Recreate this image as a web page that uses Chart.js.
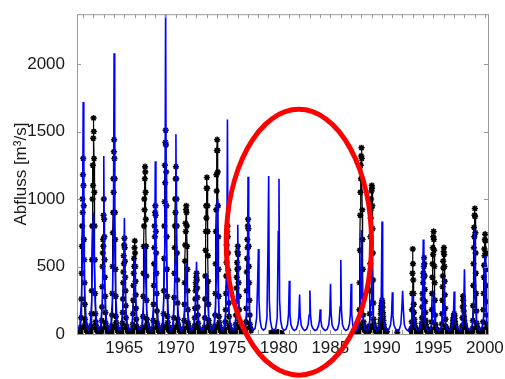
<!DOCTYPE html>
<html>
<head>
<meta charset="utf-8">
<script src="https://cdn.jsdelivr.net/npm/chart.js@4.4.1/dist/chart.umd.min.js"></script>
<style>
html, body { margin: 0; background: #fff; }
#wrap { width: 505px; height: 379px; }
</style>
</head>
<body>
<div id="wrap"><canvas id="abflussChart"></canvas></div>
<script>
// simulated discharge (blue): one row per year, values at SIM_PHASE offsets from the year
const SIM_YEARS = [1961,1962,1963,1964,1965,1966,1967,1968,1969,1970,
	1971,1972,1973,1974,1975,1976,1977,1978,1979,1980,
	1981,1982,1983,1984,1985,1986,1987,1988,1989,1990,
	1991,1992,1993,1994,1995,1996,1997,1998,1999,2000];
const SIM_PHASE = [-0.5, -0.3, -0.15, -0.05, 0.02, 0.08, 0.18, 0.32];
const SIM_FLOW = [
	[30, 60, 250, 600, 1720, 700, 300, 80],
	[30, 60, 250, 700, 900, 600, 250, 80],
	[30, 55, 200, 500, 1320, 500, 200, 70],
	[30, 60, 250, 650, 2080, 700, 280, 80],
	[30, 50, 180, 400, 860, 400, 160, 60],
	[28, 45, 150, 350, 560, 350, 150, 55],
	[28, 50, 200, 450, 650, 450, 180, 60],
	[30, 55, 220, 500, 1280, 550, 220, 70],
	[30, 60, 280, 700, 2450, 800, 300, 80],
	[30, 55, 230, 550, 1480, 600, 230, 70],
	[28, 50, 180, 400, 520, 380, 160, 60],
	[28, 45, 140, 300, 535, 300, 130, 55],
	[28, 45, 150, 350, 450, 300, 140, 55],
	[28, 50, 200, 450, 1000, 450, 180, 60],
	[28, 50, 170, 400, 1590, 400, 160, 55],
	[28, 45, 130, 300, 810, 300, 120, 50],
	[28, 45, 140, 400, 1165, 350, 130, 50],
	[28, 40, 120, 390, 630, 250, 100, 45],
	[28, 40, 120, 640, 1170, 250, 100, 45],
	[28, 40, 120, 760, 1150, 250, 100, 45],
	[26, 35, 70, 150, 395, 150, 70, 40],
	[26, 35, 70, 130, 293, 130, 65, 40],
	[26, 35, 70, 140, 322, 140, 65, 40],
	[26, 33, 60, 100, 183, 100, 55, 38],
	[26, 35, 70, 150, 373, 150, 65, 40],
	[26, 35, 80, 200, 549, 180, 70, 40],
	[26, 35, 70, 150, 373, 150, 65, 40],
	[28, 40, 120, 350, 770, 300, 110, 45],
	[28, 40, 110, 250, 500, 250, 100, 45],
	[28, 40, 120, 300, 834, 300, 100, 45],
	[26, 35, 70, 150, 310, 140, 65, 40],
	[26, 35, 75, 200, 320, 200, 70, 40],
	[26, 35, 70, 150, 290, 140, 65, 40],
	[26, 38, 100, 250, 700, 250, 90, 42],
	[26, 35, 80, 180, 320, 170, 70, 40],
	[26, 36, 90, 220, 420, 200, 80, 40],
	[26, 35, 70, 150, 315, 140, 65, 40],
	[26, 36, 90, 220, 480, 200, 80, 40],
	[28, 40, 110, 300, 775, 280, 100, 45],
	[28, 40, 100, 250, 580, 250, 90, 45]
];

// observed discharge (black): 40 values per year, every 0.025 yr from year-0.5, null = no data
const OBS_STEP = 0.025;
const OBS_YEARS = [1961,1962,1963,1964,1965,1966,1967,1968,1969,1970,
	1971,1972,1973,1974,1975,1976,1977,1979,1980,
	1987,1988,1989,1990,1992,1993,1994,1995,1996,1997,1998,1999,2000];
const n = null;
const OBS_FLOW = [
	[22,18,15,13,12,11,10,10,11,13,18,28, 50,120,260,450,650,800,1000,900,1180,1300,1100,950,700,550,380,220,110, 75,55,42,35,30,27,25,23,22,21,20],
	[20,17,15,13,12,11,10,10,11,14,20,30, 60,150,320,550,800,1000,1250,1100,1450,1600,1500,1300,1050,800,550,300,150, 90,65,48,38,32,28,26,24,22,21,20],
	[20,17,14,12,11,10,10,10,11,13,17,24, 40,100,200,350,500,600,700,650,880,1000,850,720,550,420,280,160,80, 60,45,36,30,27,25,23,22,21,20,19],
	[19,16,14,12,11,10,10,10,11,14,20,30, 60,140,300,500,750,900,1150,1050,1350,1440,1300,1150,900,700,480,280,130, 85,62,47,38,32,28,26,24,22,21,20],
	[20,17,14,12,11,10,10,10,11,13,16,22, 35,80,160,260,380,460,580,520,660,710,640,540,420,320,210,120,60, 45,36,30,26,24,22,21,20,19,18,18],
	[18,15,13,12,11,10,10,10,11,12,15,20, 30,70,150,250,360,450,560,500,640,690,600,500,390,290,190,110,55, 42,34,28,25,23,21,20,19,18,18,17],
	[17,15,13,12,11,10,10,10,11,13,18,26, 50,130,280,450,650,800,1000,920,1150,1240,1200,1050,850,650,430,250,110, 75,55,42,35,30,27,25,23,22,21,20],
	[20,17,14,12,11,10,10,10,11,13,17,24, 40,100,220,360,520,640,800,720,900,950,880,760,600,450,300,170,80, 60,45,36,30,27,25,23,22,21,20,19],
	[19,16,14,12,11,10,10,10,11,14,20,30, 60,150,320,560,800,980,1250,1120,1420,1510,1400,1200,950,720,480,280,130, 85,62,47,38,32,28,26,24,22,21,20],
	[20,17,15,13,12,11,10,10,11,13,18,27, 50,120,270,450,640,800,1000,900,1150,1240,1150,1000,800,600,400,230,110, 75,55,42,35,30,27,25,23,22,21,20],
	[18,15,13,12,11,10,10,10,11,13,17,24, 40,100,220,380,540,660,820,760,920,950,900,800,650,480,320,180,80, 60,45,36,30,27,25,23,22,21,20,18],
	[16,14,12,11,10,9,9,9,10,11,14,18, 25,60,120,190,260,320,380,350,420,450,400,340,270,200,140,80,45, 35,28,24,21,19,18,17,16,16,15,15],
	[15,13,12,11,10,9,9,10,11,13,17,24, 50,120,260,430,620,760,950,860,1080,1160,1080,950,760,580,390,220,100, 70,52,40,34,30,27,25,23,22,21,20],
	[19,16,14,12,11,10,10,10,11,14,20,30, 60,140,300,520,760,920,1180,1060,1360,1440,1360,1200,950,720,480,280,130, 85,62,47,38,32,28,26,24,22,21,20],
	[19,16,14,12,11,10,10,10,11,13,16,22, 35,90,180,300,430,530,660,600,760,800,720,600,470,350,230,130,65, 45,36,30,26,24,22,21,20,19,18,17],
	[16,14,12,11,10,9,9,10,11,12,15,20, 30,70,140,240,340,420,530,480,610,650,590,490,380,280,180,100,50, 40,32,27,24,22,20,19,18,17,16,16],
	[15,13,12,11,10,9,9,10,11,13,16,22, 40,90,190,320,460,560,700,640,800,850,780,650,500,380,250,140,70, 45,35,28,24,n,n,n,n,n,n,n],
	[n,n,n,n,n,n,n,n,n,n,n,n, n,n,n,n,n,n,n,n,n,n,n,n,n,n,n,n,n, n,n,n,10,9,8,7,6,6,5,5],
	[5,5,5,4,4,4,5,5,6,6,7,8, 9,10,11,12,12,11,10,9,8,7,6,6,5,5,5,4,4, 4,4,4,n,n,n,n,n,n,n,n],
	[n,n,n,n,n,n,n,n,n,n,n,n, n,n,n,n,n,n,n,n,n,n,n,n,n,n,n,n,n, n,n,n,n,n,14,15,16,17,18,19],
	[20,18,17,16,15,15,15,16,18,20,25,35, 70,180,380,620,880,1050,1250,1150,1320,1380,1300,1150,920,700,480,280,140, 90,65,50,40,34,30,27,25,23,22,21],
	[20,18,16,15,14,13,13,14,15,18,23,32, 60,150,320,520,720,860,1000,930,1060,1100,1080,950,780,600,400,230,110, 75,55,42,35,30,27,25,23,22,21,20],
	[18,16,14,13,12,11,11,12,13,15,18,22, 30,50,80,110,150,180,210,190,230,250,230,200,160,130,100,70,50, 40,34,30,27,24,22,20,19,18,17,16],
	[12,n,n,n,n,n,n,n,n,n,n,n, n,n,n,n,n,n,n,n,n,n,n,n,n,n,n,n,n, n,n,n,n,n,n,n,n,n,n,n],
	[n,n,n,n,n,n,n,n,n,n,n,n, n,n,20,40,90,180,300,450,630,520,400,300,220,160,110,80,60, 45,36,30,26,23,21,20,19,18,17,16],
	[16,14,13,12,11,10,10,10,11,12,14,18, 25,35,50,80,120,200,300,260,380,450,420,500,565,520,430,330,240, 160,100,70,50,40,33,28,24,21,19,17],
	[16,14,12,11,10,9,9,10,11,12,15,20, 35,90,180,300,420,520,640,590,720,760,700,620,500,380,250,140,70, 48,38,31,27,24,22,20,19,18,17,16],
	[16,14,12,11,10,9,9,10,11,12,15,19, 30,75,150,250,350,430,540,490,610,640,590,500,390,290,190,110,55, 42,34,28,25,23,21,20,19,18,17,16],
	[15,13,12,11,10,9,9,10,11,12,14,17, 22,30,45,60,80,100,120,110,140,150,135,115,90,70,55,42,34, 28,24,21,19,18,17,16,15,15,14,14],
	[14,13,12,11,10,10,10,11,13,16,22,35, 60,120,200,280,250,210,170,130,100,80,65,55,45,38,32,28,25, 23,21,20,19,18,17,16,16,15,15,14],
	[15,13,12,11,10,9,9,10,11,13,17,24, 40,100,210,360,520,640,790,720,880,930,870,750,600,450,300,170,80, 58,44,35,30,27,25,23,22,21,20,19],
	[18,16,14,12,11,10,10,10,11,13,16,22, 35,90,180,300,420,510,630,580,700,740,690,600,480,360,240,140,70, 48,38,31,27,24,22,20,19,n,n,n]
];

const X_MIN = 1960.42, X_MAX = 2000.4;
const Y_MIN = 0, Y_MAX = 2370;
const X_LABELS = [1965, 1970, 1975, 1980, 1985, 1990, 1995, 2000];
const Y_LABELS = [0, 500, 1000, 1500, 2000];
const YEAR_MARKS = [1961,1962,1963,1964,1965,1966,1967,1968,1969,1970,
	1971,1972,1973,1974,1975,1976,1977,1978,1979,1980,
	1981,1982,1983,1984,1985,1986,1987,1988,1989,1990,
	1991,1992,1993,1994,1995,1996,1997,1998,1999,2000];
const Y_TITLE = 'Abfluss [m³/s]';
// red ring around the period without observations (year, flow, radii in data units)
const GAP_RING = { year: 1981.95, flow: 680, yearRadius: 7.05, flowRadius: 985 };

var simPoints = [];
for (let i = 0; i < SIM_YEARS.length; i++) {
	for (let k = 0; k < SIM_PHASE.length; k++) {
		simPoints.push({ x: SIM_YEARS[i] + SIM_PHASE[k], y: SIM_FLOW[i][k] });
	}
}

var obsPoints = [];
for (let i = 0; i < OBS_YEARS.length; i++) {
	if (i > 0 && OBS_YEARS[i] !== OBS_YEARS[i - 1] + 1) {
		obsPoints.push({ x: OBS_YEARS[i] - 0.5, y: null });
	}
	for (let k = 0; k < OBS_FLOW[i].length; k++) {
		obsPoints.push({ x: OBS_YEARS[i] - 0.5 + k * OBS_STEP, y: OBS_FLOW[i][k] });
	}
}

const frameAndRing = {
	id: 'frameAndRing',
	afterDatasetsDraw(chart) {
		const { ctx, chartArea: a, scales } = chart;
		ctx.save();
		ctx.strokeStyle = '#9a9a9a';
		ctx.lineWidth = 1;
		ctx.strokeRect(a.left + 0.5, a.top + 0.5, a.right - a.left - 1, a.bottom - a.top);
		ctx.beginPath();
		YEAR_MARKS.forEach(function (v) {
			const px = Math.round(scales.x.getPixelForValue(v)) + 0.5;
			ctx.moveTo(px, a.top); ctx.lineTo(px, a.top + 4);
			ctx.moveTo(px, a.bottom); ctx.lineTo(px, a.bottom - 4);
		});
		Y_LABELS.forEach(function (v) {
			const py = Math.round(scales.y.getPixelForValue(v)) + 0.5;
			ctx.moveTo(a.left, py); ctx.lineTo(a.left + 4, py);
			ctx.moveTo(a.right, py); ctx.lineTo(a.right - 5, py);
		});
		ctx.stroke();
		ctx.restore();
	},
	afterDraw(chart) {
		const { ctx, scales } = chart;
		const cx = scales.x.getPixelForValue(GAP_RING.year);
		const cy = scales.y.getPixelForValue(GAP_RING.flow);
		const rx = scales.x.getPixelForValue(GAP_RING.year + GAP_RING.yearRadius) - cx;
		const ry = cy - scales.y.getPixelForValue(GAP_RING.flow + GAP_RING.flowRadius);
		ctx.save();
		ctx.strokeStyle = '#ff0000';
		ctx.lineWidth = 5;
		ctx.beginPath();
		ctx.ellipse(cx, cy, rx, ry, 0, 0, Math.PI * 2);
		ctx.stroke();
		ctx.restore();
	}
};

Chart.defaults.font.family = '"Liberation Sans", Arial, sans-serif';
Chart.defaults.color = '#1a1a1a';

var myChart = new Chart(document.getElementById('abflussChart').getContext('2d'), {
	type: 'line',
	data: {
		datasets: [{
			label: 'Simulation',
			data: simPoints,
			borderColor: '#0000ff',
			borderWidth: 1.6,
			pointRadius: 0,
			tension: 0,
			order: 0
		},
		{
			label: 'Messung',
			data: obsPoints,
			borderColor: '#000000',
			borderWidth: 1.2,
			pointStyle: 'star',
			pointRadius: 3.1,
			pointBorderWidth: 1.5,
			pointBorderColor: '#000000',
			pointBackgroundColor: '#000000',
			spanGaps: false,
			tension: 0,
			order: 1
		}]
	},
	options: {
		responsive: true,
		maintainAspectRatio: false,
		animation: false,
		events: [],
		layout: { padding: { top: 10, right: 16, left: 0, bottom: 0 } },
		plugins: { legend: { display: false }, tooltip: { enabled: false } },
		scales: {
			x: {
				type: 'linear',
				min: X_MIN,
				max: X_MAX,
				grid: { display: false },
				border: { display: false },
				afterBuildTicks: function (scale) { scale.ticks = X_LABELS.map(function (v) { return { value: v }; }); },
				afterFit: function (scale) { scale.height = 45; },
				ticks: {
					autoSkip: false,
					maxRotation: 0,
					padding: -4,
					font: { size: 17 },
					callback: function (v) { return String(v); }
				}
			},
			y: {
				type: 'linear',
				min: Y_MIN,
				max: Y_MAX,
				grid: { display: false },
				border: { display: false },
				afterBuildTicks: function (scale) { scale.ticks = Y_LABELS.map(function (v) { return { value: v }; }); },
				afterFit: function (scale) { scale.width = 77; },
				ticks: {
					padding: 4,
					font: { size: 17 },
					callback: function (v) { return String(v); }
				},
				title: {
					display: true,
					text: Y_TITLE,
					font: { size: 17 },
					padding: { top: 11, bottom: 0 }
				}
			}
		}
	},
	plugins: [frameAndRing]
});
</script>
</body>
</html>
